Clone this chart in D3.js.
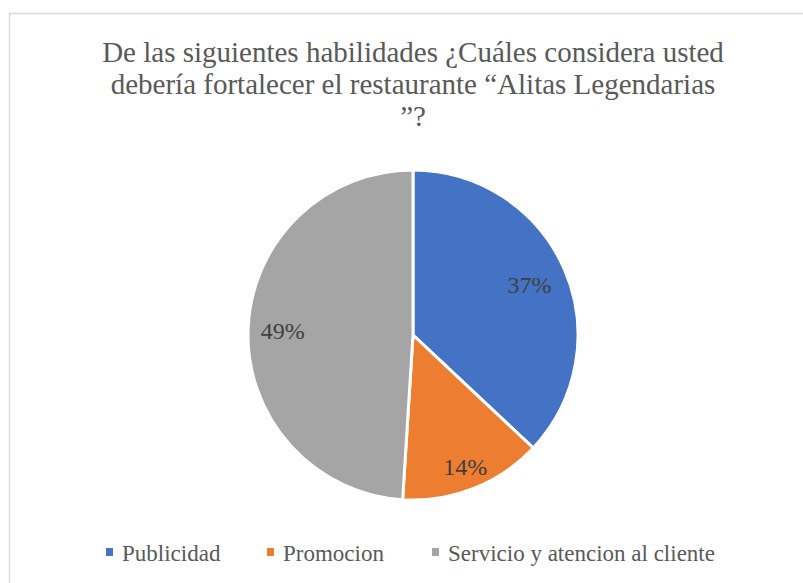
<!DOCTYPE html>
<html>
<head>
<meta charset="utf-8">
<script src="https://cdn.jsdelivr.net/npm/d3@7"></script>
<style>
  body { margin: 0; background: #fff; }
</style>
</head>
<body>
<svg id="mySvg"></svg>
<script>
// chart data
var categories = ["Publicidad", "Promocion", "Servicio y atencion al cliente"];
var values = [37, 14, 49];
var colors = ["#4472c4", "#ed7d31", "#a5a5a5"];
var titleLines = ["De las siguientes habilidades ¿Cuáles considera usted",
                  "debería fortalecer el restaurante “Alitas Legendarias",
                  "”?"];

var svgWidth = 803;
var svgHeight = 583;
var serif = "'Liberation Serif', 'DejaVu Serif', serif";

var svg = d3.select("#mySvg")
  .attr("width", svgWidth)
  .attr("height", svgHeight)
  .style("font-family", serif);

// chart area border (runs off the right/bottom edge)
svg.append("rect")
  .attr("x", 9.5).attr("y", 13.5)
  .attr("width", 808).attr("height", 600)
  .attr("fill", "#fff")
  .attr("stroke", "#d9d9d9")
  .attr("stroke-width", 1.5);

// title
svg.append("text")
  .attr("text-anchor", "middle")
  .attr("fill", "#595959")
  .attr("font-family", serif)
  .attr("font-size", "29px")
  .selectAll("tspan")
  .data(titleLines)
  .enter()
  .append("tspan")
  .attr("x", 413)
  .attr("y", function(d, i) { return 62 + i * 32; })
  .text(function(d) { return d; });

var cx = 413, cy = 335, radius = 165;
// label distance from centre, as a share of the radius
var labelPos = [0.77, 0.86, 0.79];

var pie = d3.pie().sort(null).value(function(d) { return d; });
var arc = d3.arc().innerRadius(0).outerRadius(radius);

var g = svg.append("g").attr("transform", "translate(" + cx + "," + cy + ")");

var arcs = pie(values);

g.selectAll("path")
  .data(arcs)
  .enter()
  .append("path")
  .attr("d", arc)
  .attr("fill", function(d, i) { return colors[i]; })
  .attr("stroke", "#fff")
  .attr("stroke-width", 3);

g.selectAll("text.lbl")
  .data(arcs)
  .enter()
  .append("text")
  .attr("class", "lbl")
  .attr("transform", function(d, i) {
    var r = radius * labelPos[i];
    var c = d3.arc().innerRadius(r).outerRadius(r).centroid(d);
    return "translate(" + c + ")";
  })
  .attr("text-anchor", "middle")
  .attr("dy", "0.35em")
  .attr("fill", "#404040")
  .attr("font-family", serif)
  .attr("font-size", "24px")
  .text(function(d) { return d.value + "%"; });

// legend
var legendX = [106, 267, 432];
var legend = svg.selectAll("g.legend")
  .data(categories)
  .enter()
  .append("g")
  .attr("class", "legend")
  .attr("transform", function(d, i) { return "translate(" + legendX[i] + ",561)"; });

legend.append("rect")
  .attr("x", 0).attr("y", -13)
  .attr("width", 7).attr("height", 8)
  .attr("fill", function(d, i) { return colors[i]; });

legend.append("text")
  .attr("x", 16)
  .attr("y", 0)
  .attr("fill", "#595959")
  .attr("font-family", serif)
  .attr("font-size", "23px")
  .text(function(d) { return d; });
</script>
</body>
</html>
